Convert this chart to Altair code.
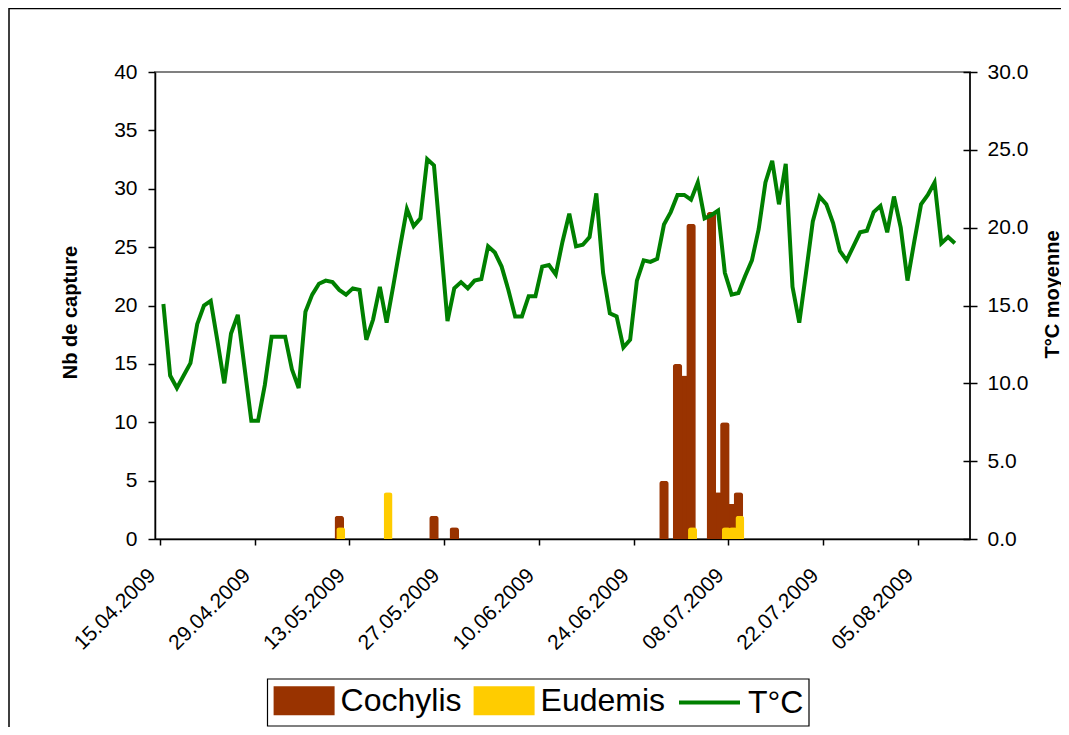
import altair as alt
import pandas as pd

# ---------------- data ----------------
start_date = "2009-04-15"
temperature = [
    15.1, 10.5, 9.7, 10.5, 11.3, 13.8, 15.0, 15.3, 12.7, 10.0,
    13.2, 14.4, 11.0, 7.6, 7.6, 9.9, 13.0, 13.0, 13.0, 10.9,
    9.7, 14.6, 15.7, 16.4, 16.6, 16.5, 16.0, 15.7, 16.1, 16.0,
    12.8, 14.1, 16.2, 13.9, 16.3, 18.8, 21.2, 20.1, 20.6, 24.4,
    24.0, 19.0, 14.0, 16.1, 16.5, 16.1, 16.6, 16.7, 18.8, 18.4,
    17.5, 16.0, 14.3, 14.3, 15.6, 15.6, 17.5, 17.6, 17.0, 19.1,
    20.9, 18.8, 18.9, 19.4, 22.2, 17.1, 14.5, 14.3, 12.3, 12.8,
    16.6, 17.9, 17.8, 18.0, 20.2, 21.0, 22.1, 22.1, 21.8, 22.9,
    20.6, 20.8, 21.1, 17.1, 15.7, 15.8, 16.9, 17.9, 19.9, 22.9,
    24.3, 21.5, 24.1, 16.2, 13.9, 17.1, 20.4, 22.0, 21.5, 20.3,
    18.5, 17.9, 18.8, 19.7, 19.8, 21.0, 21.4, 19.7, 22.0, 20.0,
    16.6, 19.1, 21.5, 22.1, 22.9, 19.0, 19.4, 19.0,
]
cochylis_dates = ["2009-05-11", "2009-05-25", "2009-05-28", "2009-06-28", "2009-06-30",
                  "2009-07-01", "2009-07-02", "2009-07-05", "2009-07-06", "2009-07-07",
                  "2009-07-08", "2009-07-09"]
cochylis_counts = [2, 2, 1, 5, 15, 14, 27, 28, 4, 10, 3, 4]
eudemis_dates = ["2009-05-11", "2009-05-18", "2009-07-02", "2009-07-07", "2009-07-08", "2009-07-09"]
eudemis_counts = [1, 4, 1, 1, 1, 2]
tick_dates = ["2009-04-15", "2009-04-29", "2009-05-13", "2009-05-27", "2009-06-10",
              "2009-06-24", "2009-07-08", "2009-07-22", "2009-08-05"]
left_ticks = [0, 5, 10, 15, 20, 25, 30, 35, 40]
right_ticks = [0, 5, 10, 15, 20, 25, 30]

# ---------------- tables ----------------
days = pd.date_range(start_date, periods=len(temperature), freq="D")
temp_df = pd.DataFrame({
    "date": [d.strftime("%Y-%m-%dT12:00:00") for d in days],
    "temp": temperature,
    "series": ["T°C"] * len(temperature),
})
coch_df = pd.DataFrame({
    "date": [d + "T12:00:00" for d in cochylis_dates],
    "count": cochylis_counts,
    "species": ["Cochylis"] * len(cochylis_counts),
}).sort_values("count", kind="stable")
eud_df = pd.DataFrame({
    "date": [d + "T12:00:00" for d in eudemis_dates],
    "count": eudemis_counts,
    "species": ["Eudemis"] * len(eudemis_counts),
}).sort_values("count", kind="stable")
one = pd.DataFrame({"k": [0]})


def dt(s):
    return alt.DateTime(year=int(s[:4]), month=int(s[5:7]), date=int(s[8:10]))


W, H = 815, 467
FONT = "Liberation Sans"

x_scale = alt.Scale(domain=[dt("2009-04-15"), dt("2009-08-12")])
x_axis = alt.Axis(
    values=[dt(s) for s in tick_dates], format="%d.%m.%Y",
    labelAngle=315, labelAlign="right", labelBaseline="middle",
    labelPadding=27, labelOffset=-8,
    tickSize=6, tickWidth=1.5, tickColor="black", domainColor="black", domainWidth=1.5,
    labelFont=FONT, labelFontSize=21, labelColor="black", title=None, grid=False,
)
left_axis = alt.Axis(
    orient="left", values=left_ticks, format="d", tickSize=7, labelPadding=11,
    tickWidth=1.5, tickColor="black", domainColor="black", domainWidth=1.5,
    labelFont=FONT, labelFontSize=21, labelColor="black", grid=False,
    title="Nb de capture", titleFont=FONT, titleFontSize=20, titleFontWeight="bold",
    titleColor="black", titleAngle=270, titleX=-85, titleY=240,
    titleAlign="center", titleBaseline="middle",
)
right_axis = alt.Axis(
    orient="right", values=right_ticks, format=".1f", tickSize=14, offset=-7,
    domain=False, labelPadding=10, tickWidth=1.5, tickColor="black",
    labelFont=FONT, labelFontSize=21, labelColor="black", grid=False,
    title="T°C moyenne", titleFont=FONT, titleFontSize=20, titleFontWeight="bold",
    titleColor="black", titleAngle=270, titleX=89, titleY=222,
    titleAlign="center", titleBaseline="middle",
)

bar_fill = alt.Fill(
    "species:N",
    scale=alt.Scale(domain=["Cochylis", "Eudemis"], range=["#993300", "#FFCC00"]),
    legend=alt.Legend(
        title=None, orient="none", legendX=118.6, legendY=598, direction="horizontal",
        symbolType="M-1,-0.475H1V0.475H-1Z", symbolSize=3721, symbolStrokeWidth=0,
        labelFont=FONT, labelFontSize=32, labelColor="black", labelOffset=6,
        columnPadding=12, padding=0,
    ),
)

brown = alt.Chart(coch_df).mark_bar(
    size=9.5, cornerRadiusTopLeft=3, cornerRadiusTopRight=3
).encode(
    x=alt.X("date:T", scale=x_scale, axis=x_axis),
    y=alt.Y("count:Q", scale=alt.Scale(domain=[0, 40]), axis=left_axis),
    fill=bar_fill,
)
yellow = alt.Chart(eud_df).mark_bar(
    size=9, xOffset=1.5, cornerRadiusTopLeft=3, cornerRadiusTopRight=3
).encode(
    x=alt.X("date:T", scale=x_scale),
    y=alt.Y("count:Q", scale=alt.Scale(domain=[0, 40])),
    fill=bar_fill,
)
bars = alt.layer(brown, yellow)

line = alt.Chart(temp_df).mark_line(strokeWidth=4).encode(
    x=alt.X("date:T", scale=x_scale),
    y=alt.Y("temp:Q", scale=alt.Scale(domain=[0, 30]), axis=right_axis),
    stroke=alt.Stroke(
        "series:N",
        scale=alt.Scale(domain=["T°C"], range=["#008000"]),
        legend=alt.Legend(
            title=None, orient="none", legendX=522, legendY=598,
            symbolType="stroke", symbolSize=3721, symbolStrokeWidth=4,
            labelFont=FONT, labelFontSize=32, labelColor="black", labelOffset=6,
            padding=0,
        ),
    ),
)

frame = alt.Chart(one).mark_rect(fillOpacity=0, stroke="black", strokeWidth=1.5).encode(
    x=alt.value(-146), x2=alt.value(1000), y=alt.value(-63.5), y2=alt.value(800)
)
legend_box = alt.Chart(one).mark_rect(fill="white", stroke="black", strokeWidth=1.2).encode(
    x=alt.value(112.5), x2=alt.value(654), y=alt.value(607), y2=alt.value(654)
)
right_rule = alt.Chart(one).mark_rule(color="black", strokeWidth=1.5).encode(
    x=alt.value(W), y=alt.value(0), y2=alt.value(H)
)

chart = alt.layer(frame, legend_box, bars, line, right_rule).resolve_scale(
    y="independent"
).properties(
    width=W, height=H,
    autosize=alt.AutoSizeParams(type="none"),
    padding={"left": 147, "top": 64, "right": 91, "bottom": 188},
).configure(background="white").configure_view(stroke="#808080", strokeWidth=2)

chart.save("out.html", embed_options={"renderer": "svg", "actions": False})
